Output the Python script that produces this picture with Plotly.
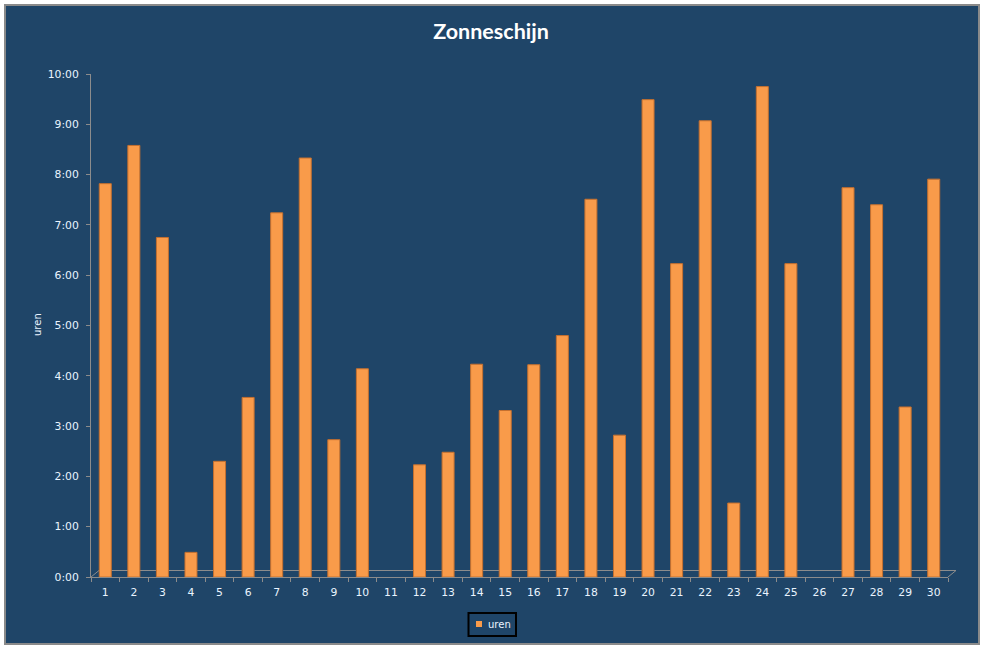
import plotly.graph_objects as go

days = [str(i) for i in range(1, 31)]
uren = [7.82, 8.58, 6.75, 0.49, 2.30, 3.57, 7.24, 8.33, 2.73, 4.14,
        0.0, 2.23, 2.48, 4.23, 3.31, 4.22, 4.80, 7.51, 2.82, 9.49,
        6.23, 9.07, 1.47, 9.75, 6.23, 0.0, 7.74, 7.40, 3.38, 7.91]
tick_vals = list(range(0, 11))
tick_text = [f"{h}:00" for h in tick_vals]

W, H = 987, 648
L, R, T, B = 91, 39, 74, 71
PW, PH = W - L - R, H - T - B

def px(x):
    return (x - L) / PW

def py(y):
    return (H - B - y) / PH

BG = "#1F4568"
GRID = "#8C8C8C"
TXT = "#EAF4FF"
FS = 10.8

fig = go.Figure()
fig.add_trace(go.Bar(
    x=days, y=uren, name="uren",
    marker=dict(color="#F99B4A",
                line=dict(color="#C5702F", width=[1 if v > 0 else 0 for v in uren])),
    showlegend=False,
))

shapes = [
    dict(type="rect", xref="paper", yref="paper", x0=px(5), x1=px(979), y0=py(5), y1=py(644),
         fillcolor=BG, line=dict(color="#8A8A8A", width=2), layer="below"),
    dict(type="line", xref="paper", yref="paper", x0=px(99), x1=px(956), y0=py(570.5), y1=py(570.5),
         line=dict(color=GRID, width=1), layer="below"),
    dict(type="line", xref="paper", yref="paper", x0=px(91), x1=px(99), y0=py(577), y1=py(570.5),
         line=dict(color=GRID, width=1), layer="below"),
    dict(type="line", xref="paper", yref="paper", x0=px(948), x1=px(956), y0=py(577), y1=py(570.5),
         line=dict(color=GRID, width=1), layer="below"),
    dict(type="rect", xref="paper", yref="paper", x0=px(468.5), x1=px(516), y0=py(613), y1=py(636),
         fillcolor=BG, line=dict(color="#000000", width=2)),
    dict(type="rect", xref="paper", yref="paper", x0=px(476), x1=px(482), y0=py(621), y1=py(627),
         fillcolor="#F99B4A", line=dict(width=0)),
]

annotations = [
    dict(text="uren", xref="paper", yref="paper", x=px(37), y=py(325), showarrow=False,
         textangle=-90, font=dict(family="DejaVu Sans", size=10, color=TXT),
         xanchor="center", yanchor="middle"),
    dict(text="uren", xref="paper", yref="paper", x=px(486), y=py(624.5), showarrow=False,
         font=dict(family="DejaVu Sans", size=10, color=TXT), xanchor="left", yanchor="middle"),
]

fig.update_layout(
    width=W, height=H,
    margin=dict(l=L, r=R, t=T, b=B, pad=0),
    paper_bgcolor="white",
    plot_bgcolor="rgba(0,0,0,0)",
    bargap=0.58,
    title=dict(text="<b>Zonneschijn</b>", x=491 / W, xanchor="center", y=1 - 31 / H, yanchor="middle",
               font=dict(family="Lato", size=21.5, color="white")),
    xaxis=dict(type="category", showgrid=False, showline=True, linecolor=GRID, linewidth=1,
               ticks="outside", tickson="boundaries", ticklen=4, tickcolor=GRID,
               ticklabelstandoff=5,
               tickfont=dict(family="DejaVu Sans", size=FS, color=TXT), fixedrange=True),
    yaxis=dict(range=[0, 10], tickvals=tick_vals, ticktext=tick_text, showgrid=False,
               showline=True, linecolor=GRID, linewidth=1, ticks="outside", ticklen=4,
               tickcolor=GRID, zeroline=False, ticklabelstandoff=5,
               tickfont=dict(family="DejaVu Sans", size=FS, color=TXT), fixedrange=True),
    shapes=shapes,
    annotations=annotations,
)

fig.write_html("out.html")
